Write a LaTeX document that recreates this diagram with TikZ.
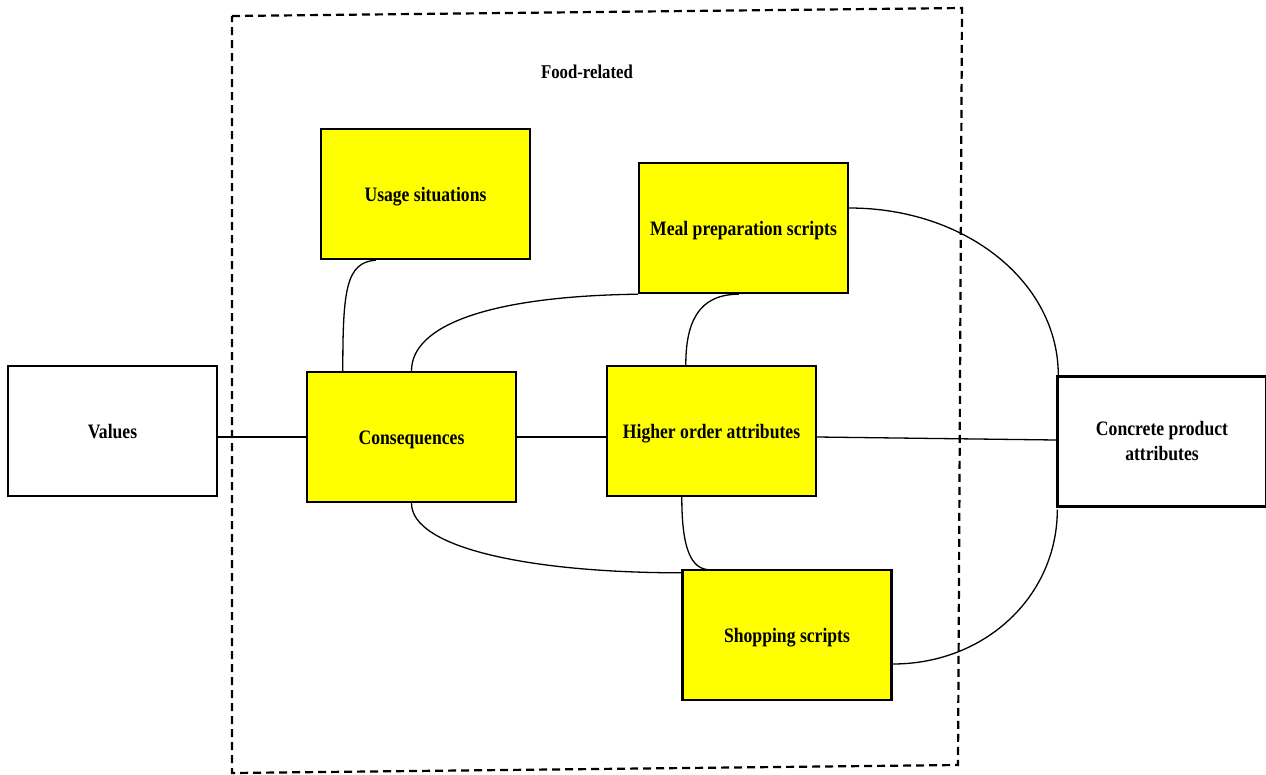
\documentclass[tikz,border=0pt]{standalone}
\usepackage{fontspec}
\newfontfamily\lblfont[FakeStretch=0.86]{Liberation Serif}
\usetikzlibrary{calc}
\definecolor{boxyellow}{RGB}{255,255,0}

\tikzset{
  box/.style={draw=black, line width=2.4pt, minimum width=209pt, minimum height=130pt,
    inner sep=0pt, align=center, font=\lblfont\bfseries\fontsize{20.5}{25}\selectfont},
  oneline/.style={text height=15.5pt, text depth=0pt},
  hlbox/.style={box, fill=boxyellow},
  plainbox/.style={box, fill=white},
  link/.style={draw=black, line width=1.3pt},
  frame/.style={draw=black, line width=2.2pt, dash pattern=on 8pt off 5pt},
  caption/.style={font=\lblfont\bfseries\fontsize{19.5}{23}\selectfont}
}

\begin{document}
\begin{tikzpicture}[x=1pt, y=-1pt]
  \useasboundingbox (0,0) rectangle (1266,774);

  % food-related region
  \draw[frame] (232,16) -- (962,8) -- (958,765) -- (232,773) -- cycle;
  \node[caption] (foodlbl) at (587,72) {Food-related};

  % boxes
  \node[plainbox, oneline] (values)   at (112.5,431) {Values};
  \node[hlbox, oneline]    (usage)    at (425.5,194) {Usage situations};
  \node[hlbox, oneline]    (meal)     at (743.5,228) {Meal preparation scripts};
  \node[hlbox, oneline]    (cons)     at (411.5,437) {Consequences};
  \node[hlbox, oneline]    (higher)   at (711.5,431) {Higher order attributes};
  \node[hlbox, oneline]    (shop)     at (787,635)   {Shopping scripts};
  \node[plainbox]          (concrete) at (1162,441.5) {Concrete product\\attributes};

  % straight links
  \draw[link] ($(values.east)+(0,6)$) -- (cons.west);
  \draw[link] (cons.east) -- (cons.east -| higher.west);
  \draw[link] ($(higher.east)+(0,6)$) -- ($(concrete.west)+(0,-1.5)$);

  % curved links
  \draw[link] ($(usage.south west)+(56,0)$) .. controls +(-30,2) and +(0,-80) .. ($(cons.north west)+(37,0)$);
  \draw[link] (meal.south west) .. controls +(-150,2) and +(0,-45) .. (cons.north);
  \draw[link] ($(meal.south west)+(101,0)$) .. controls +(-42,0) and +(0,-40) .. ($(higher.north west)+(80,0)$);
  \draw[link] (cons.south) .. controls +(0,45) and +(-150,0) .. ($(shop.north west)+(0,4)$);
  \draw[link] ($(higher.south west)+(76,0)$) .. controls +(0,50) and +(-20,0) .. ($(shop.north west)+(29,1)$);
  \draw[link] ($(meal.east)+(0,-20)$) .. controls +(117,0) and +(0,-93) .. ($(concrete.north west)+(2,0)$);
  \draw[link] ($(shop.east)+(0,29)$) .. controls +(93,0) and +(0,86) .. ($(concrete.south west)+(1,2)$);
\end{tikzpicture}
\end{document}
